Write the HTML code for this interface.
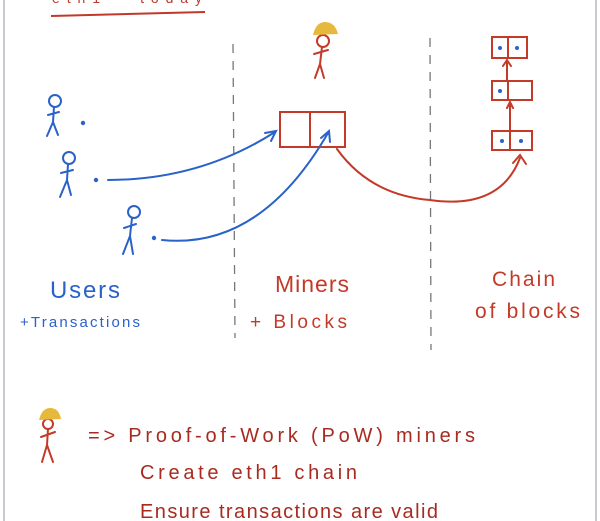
<!DOCTYPE html>
<html><head><meta charset="utf-8"><style>
html,body{margin:0;padding:0;background:#fff;}
svg{display:block}
text{font-family:"Liberation Sans",sans-serif;}
</style></head><body>
<svg width="600" height="521" viewBox="0 0 600 521" xmlns="http://www.w3.org/2000/svg">
<rect x="0" y="0" width="600" height="521" fill="#fff"/>
<line x1="4" y1="0" x2="4" y2="521" stroke="#c8ccd2" stroke-width="2"/>
<line x1="596" y1="0" x2="596" y2="521" stroke="#c8ccd2" stroke-width="2"/>
<!-- title -->
<text x="52" y="3" font-size="14" fill="#c0392b" textLength="150">eth1 - today</text>
<path d="M51 16 Q130 14 205 12" stroke="#c0392b" stroke-width="2" fill="none"/>
<!-- dashed lines -->
<line x1="233" y1="44" x2="235" y2="338" stroke="#777" stroke-width="1.3" stroke-dasharray="9,8"/>
<line x1="430" y1="38" x2="431" y2="350" stroke="#777" stroke-width="1.3" stroke-dasharray="9,8"/>
<g stroke="#c43a28" stroke-width="2" fill="none" stroke-linecap="round">
<!-- miner top -->
<circle cx="323" cy="41" r="6"/>
<path d="M322 47 L320 64 M314 54 L328 50 M320 64 L315 78 M320 64 L324 78"/>
<!-- block -->
<rect x="280" y="112" width="65" height="35"/>
<line x1="310" y1="112" x2="310" y2="147"/>
<!-- chain -->
<rect x="492" y="37" width="35" height="21"/><line x1="508" y1="37" x2="508" y2="58"/>
<rect x="492" y="81" width="40" height="19"/><line x1="508" y1="81" x2="508" y2="100"/>
<rect x="492" y="131" width="40" height="19"/><line x1="510" y1="131" x2="510" y2="150"/>
<path d="M507 80 L507 60 M503 66 L507 60 L511 66"/>
<path d="M510 130 L510 102 M507 108 L510 102 L513 108"/>
<!-- red curve -->
<path d="M337 149 Q370 195 430 200 Q500 210 520 158"/>
<path d="M513 163 L520 155 L526 164"/>
<!-- bottom miner -->
<circle cx="48" cy="424" r="5"/>
<path d="M48 429 L47 445 M41 437 L55 432 M47 445 L42 462 M47 445 L53 462"/>
</g>
<!-- hats -->
<path d="M313 35 Q316 22 325 22 Q335 22 338 34 Z" fill="#e6b83c"/>
<path d="M39 420 Q42 408 50 408 Q59 408 61 419 Z" fill="#e6b83c"/>
<g fill="#2a62c9">
<circle cx="500" cy="48" r="2"/><circle cx="517" cy="48" r="2"/>
<circle cx="500" cy="91" r="2"/>
<circle cx="502" cy="141" r="2"/><circle cx="521" cy="141" r="2"/>
<circle cx="83" cy="123" r="2.2"/><circle cx="96" cy="180" r="2.2"/><circle cx="154" cy="238" r="2.2"/>
</g>
<g stroke="#2a62c9" stroke-width="2" fill="none" stroke-linecap="round">
<circle cx="55" cy="101" r="6"/><path d="M54 107 L53 122 M48 115 L59 112 M53 122 L47 136 M53 122 L58 135"/>
<circle cx="69" cy="158" r="6"/><path d="M68 164 L67 180 M61 173 L73 170 M67 180 L60 197 M67 180 L71 195"/>
<circle cx="134" cy="212" r="6"/><path d="M132 218 L130 236 M124 228 L136 224 M130 236 L123 254 M130 236 L133 254"/>
<path d="M108 180 Q200 180 275 132"/><path d="M265 133 L276 131 L271 141"/>
<path d="M162 240 Q260 250 328 133"/><path d="M321 138 L329 131 L330 142"/>
</g>
<!-- labels -->
<text x="50" y="298" font-size="24" fill="#2a62c9" textLength="70">Users</text>
<text x="20" y="327" font-size="15" fill="#2a62c9" textLength="120">+Transactions</text>
<text x="275" y="292" font-size="23" fill="#c43a28" textLength="74">Miners</text>
<text x="250" y="328" font-size="19" fill="#c43a28" textLength="97">+  Blocks</text>
<text x="492" y="286" font-size="21" fill="#c43a28" textLength="63">Chain</text>
<text x="475" y="318" font-size="21" fill="#c43a28" textLength="105">of blocks</text>
<text x="88" y="442" font-size="20" fill="#a82a20" textLength="387">=&gt; Proof-of-Work (PoW)  miners</text>
<text x="140" y="479" font-size="20" fill="#a82a20" textLength="217">Create  eth1  chain</text>
<text x="140" y="518" font-size="20" fill="#a82a20" textLength="298">Ensure  transactions  are  valid</text>
</svg>
</body></html>
